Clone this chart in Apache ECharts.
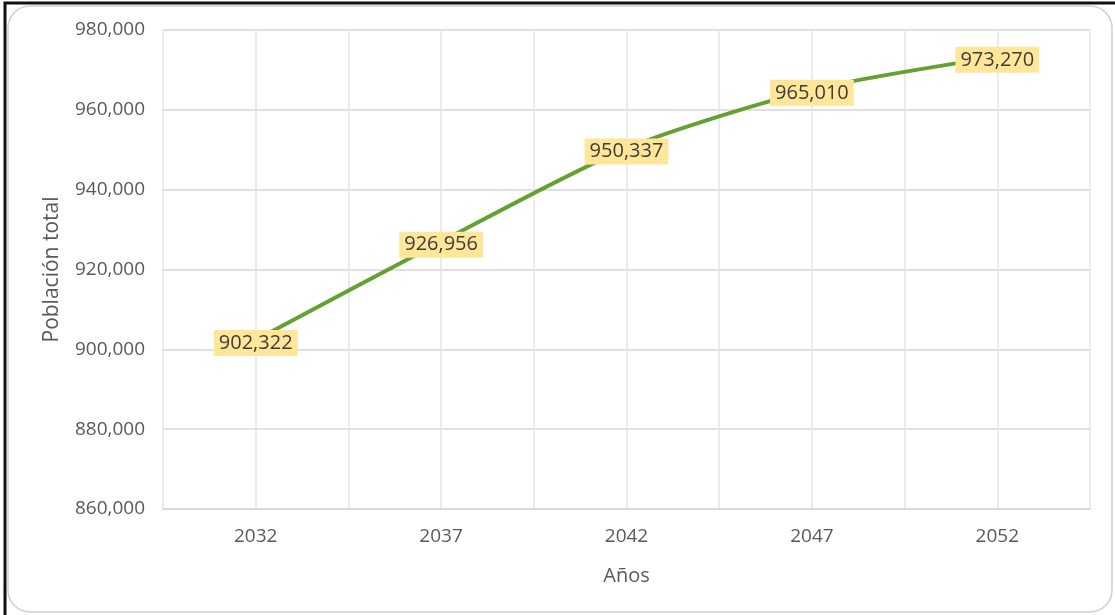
<!DOCTYPE html>
<html><head><meta charset="utf-8">
<script src="https://cdn.jsdelivr.net/npm/echarts@6/dist/echarts.min.js"></script>
<style>html,body{margin:0;padding:0;background:#fff}#c{width:1115px;height:615px}</style>
</head><body><div id="c"></div>
<script>
const years = ['2032','2037','2042','2047','2052'];
const population = [902322, 926956, 950337, 965010, 973270];
const yTicks = {min: 860000, max: 980000, interval: 20000};
const halfSteps = ['a','b','c','d','e','f','g','h','i','j'];

const fmt = v => v.toLocaleString('en-US');
const FF = 'Open Sans';
const chart = echarts.init(document.getElementById('c'));
chart.setOption({
  backgroundColor: '#fff',
  animation: false,
  textStyle: {fontFamily: FF},
  graphic: [
    {type: 'rect', shape: {x: 8, y: 6, width: 1104, height: 606, r: 22}, style: {fill: '#fff', stroke: '#d0d0d0', lineWidth: 1.5}, z: -10},
    {type: 'rect', shape: {x: 5, y: 3, width: 1200, height: 700}, style: {fill: 'none', stroke: '#111', lineWidth: 3}, z: -5}
  ],
  grid: {left: 163, right: 25, top: 30, bottom: 106},
  xAxis: [{
    type: 'category', data: years, boundaryGap: true,
    name: 'Años', nameLocation: 'middle', nameGap: 57,
    nameTextStyle: {color: '#595959', fontSize: 20, fontFamily: FF},
    axisLine: {show: true, lineStyle: {color: '#d9d9d9', width: 2}},
    axisTick: {show: false},
    axisLabel: {color: '#595959', fontSize: 19, margin: 18, fontFamily: FF},
    splitLine: {show: false}
  }, {
    type: 'category', data: halfSteps, boundaryGap: true, position: 'bottom',
    axisLine: {show: false}, axisTick: {show: false}, axisLabel: {show: false},
    splitLine: {show: true, interval: 0, lineStyle: {color: '#e4e4e4', width: 1.5}}
  }],
  yAxis: {
    type: 'value', min: yTicks.min, max: yTicks.max, interval: yTicks.interval,
    name: 'Población total', nameLocation: 'middle', nameGap: 100,
    nameTextStyle: {color: '#595959', fontSize: 21, fontFamily: FF},
    axisLine: {show: false}, axisTick: {show: false},
    axisLabel: {color: '#595959', fontSize: 19, margin: 18, formatter: fmt, fontFamily: FF},
    splitLine: {lineStyle: {color: '#e0e0e0', width: 2}}
  },
  series: [{
    type: 'line', data: population, xAxisIndex: 0,
    smooth: 0.25,
    symbol: 'circle', symbolSize: 1,
    itemStyle: {color: 'rgba(0,0,0,0)'},
    lineStyle: {color: '#62a132', width: 4},
    label: {
      show: true, position: 'inside', offset: [0, 3], formatter: p => fmt(p.value),
      color: '#3d3d3d', fontSize: 20, fontFamily: FF,
      backgroundColor: '#ffe699', padding: [4, 5, 2, 5]
    },
    z: 3
  }]
});
</script></body></html>
